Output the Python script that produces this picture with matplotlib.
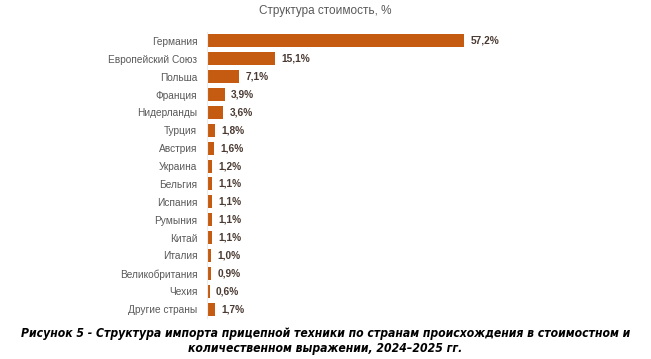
import matplotlib
matplotlib.use("Agg")
import matplotlib.pyplot as plt
from matplotlib import font_manager

categories = ["Германия", "Европейский Союз", "Польша", "Франция", "Нидерланды",
              "Турция", "Австрия", "Украина", "Бельгия", "Испания", "Румыния",
              "Китай", "Италия", "Великобритания", "Чехия", "Другие страны"]
values = [57.2, 15.1, 7.1, 3.9, 3.6, 1.8, 1.6, 1.2, 1.1, 1.1, 1.1, 1.1, 1.0, 0.9, 0.6, 1.7]
title = "Структура стоимость, %"
caption = ("Рисунок 5 - Структура импорта прицепной техники по странам происхождения в стоимостном и\n"
           "количественном выражении, 2024–2025 гг.")

dv_cond = [f for f in font_manager.fontManager.ttflist
           if "DejaVuSansCondensed-BoldOblique" in f.fname]

plt.rcParams['font.family'] = ['Liberation Sans', 'DejaVu Sans']

fig = plt.figure(figsize=(6.51, 3.59), dpi=100)
left_px, scale = 207, (464 - 207) / 57.2
ax = fig.add_axes([left_px/651, 0.114, (540-left_px)/651, 0.911-0.114])

y = list(range(len(categories)))
ax.barh(y, values, height=0.73, color="#C55A11")
ax.set_ylim(len(categories) - 0.5, -0.5)
ax.set_xlim(0, (540-left_px)/scale)
ax.set_yticks(y)
ax.set_yticklabels(categories, fontsize=7.3, color="#595959")
ax.tick_params(axis='y', length=0, pad=7)
ax.set_xticks([])
for s in ["top", "right", "bottom"]:
    ax.spines[s].set_visible(False)
ax.spines["left"].set_color("#ececec")
ax.spines["left"].set_linewidth(0.8)

for yi, v in zip(y, values):
    ax.annotate(f"{v:.1f}%".replace(".", ","), xy=(v, yi), xytext=(4.5, 0),
                textcoords="offset points", va="center", ha="left",
                fontsize=7.3, fontweight="bold", color="#4a3a32")

fig.text(0.5, 1 - 11/359, title, ha="center", va="center", fontsize=8.5, color="#595959")

if dv_cond:
    fig.text(0.5, 1 - 341/359, caption, ha="center", va="center", fontsize=8.7,
             fontweight="bold", fontstyle="italic", fontstretch="condensed",
             family="DejaVu Sans", linespacing=1.2)
else:
    fig.text(0.5, 1 - 341/359, caption, ha="center", va="center", fontsize=8.6,
             fontweight="bold", fontstyle="italic", family="Liberation Sans", linespacing=1.25)

fig.savefig("out.png", dpi=100)
